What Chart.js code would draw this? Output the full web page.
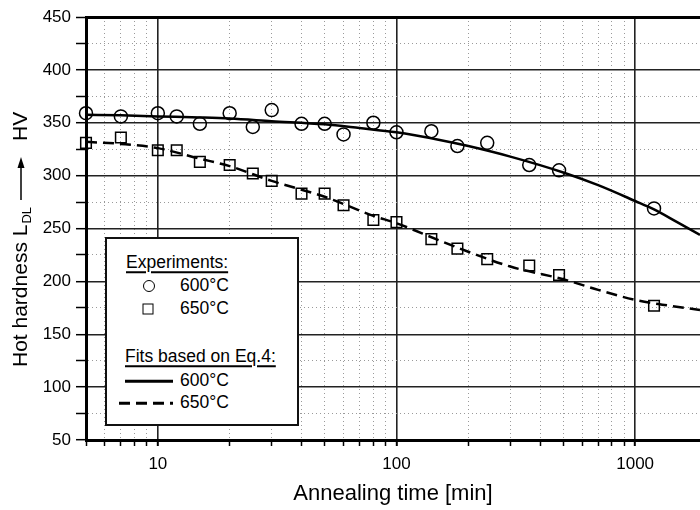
<!DOCTYPE html>
<html lang="en">
<head>
  <meta charset="UTF-8" />
  <title>Hot hardness vs annealing time</title>
  <script src="https://cdn.jsdelivr.net/npm/chart.js"></script>
  <style>
    html, body { margin:0; padding:0; background:#fff; }
    body { font-family: 'Liberation Sans', Arial, sans-serif; color:#000; }
    .wrap { position: relative; width:700px; height:510px; }
    #legendBox {
      position: absolute;
      left: 105px; top: 237px;
      width: 194px; height: 189px;
      box-sizing: border-box;
      border: 2px solid #111;
      background: #fff;
    }
    #legendBox .item {
      position: absolute;
      transform: translateY(-50%);
      font-size: 17.5px;
      line-height: 1;
      white-space: nowrap;
    }
    #legendBox .hdr { text-decoration: underline; text-decoration-thickness: 1.5px; text-underline-offset: 3px; }
    .mk-circle { position:absolute; width:10px; height:10px; border:1.5px solid #000; border-radius:50%; transform: translate(-50%,-50%); }
    .mk-square { position:absolute; width:9px; height:9px; border:1.5px solid #000; transform: translate(-50%,-50%); }
    .ln { position:absolute; height:2.5px; transform: translateY(-50%); }
    .ln.solid { background:#000; }
    .ln.dash { background: repeating-linear-gradient(to right, #000 0 11px, transparent 11px 17px); }
  </style>
</head>
<body>
  <div class="wrap">
    <canvas id="hardnessChart" width="700" height="510"></canvas>
    <div id="legendBox">
      <div class="item hdr" style="left:19px; top:24px;">Experiments:</div>
      <div class="mk-circle" style="left:42px; top:47px;"></div>
      <div class="item" style="left:73px; top:47px;">600°C</div>
      <div class="mk-square" style="left:41px; top:70px;"></div>
      <div class="item" style="left:73px; top:70px;">650°C</div>
      <div class="item hdr" style="left:18px; top:118px;">Fits based on Eq.4:</div>
      <div class="ln solid" style="left:18px; width:48px; top:142px;"></div>
      <div class="item" style="left:73px; top:142px;">600°C</div>
      <div class="ln dash" style="left:12px; width:54px; top:164px;"></div>
      <div class="item" style="left:73px; top:164px;">650°C</div>
    </div>
  </div>

  <script>
    // measured points (annealing time in min, hot hardness in HV)
    const expTimes = [5, 7, 10, 12, 15, 20, 25, 30, 40, 50, 60, 80, 100, 140, 180, 240, 360, 480, 1200];
    const exp600 = [359, 356, 359, 356, 349, 359, 346, 362, 349, 349, 339, 350, 341, 342, 328, 331, 310, 305, 269];
    const exp650 = [331, 336, 324, 324, 313, 310, 302, 295, 283, 283, 272, 258, 256, 240, 231, 221, 215, 206, 177];

    // fitted curves (Eq.4)
    const fitTimes600 = [5, 7, 10, 15, 20, 30, 50, 70, 100, 150, 200, 300, 500, 700, 1000, 1200, 1500, 1870];
    const fit600 = [357.5, 357, 356, 355, 354, 351.5, 348.5, 345, 341, 334, 328, 318, 303, 291, 276, 268, 256, 244];
    const fitTimes650 = [5, 7, 10, 15, 20, 30, 50, 80, 100, 150, 200, 300, 500, 700, 1000, 1300, 1870];
    const fit650 = [332, 330, 326, 316, 309, 295, 280, 262, 255, 239, 228, 214, 202, 192, 182.5, 178, 173];

    // axes
    const xMin = 5, xMax = 1870;
    const xTicks = [5, 6, 7, 8, 9, 10, 20, 30, 40, 50, 60, 70, 80, 90, 100,
                    200, 300, 400, 500, 600, 700, 800, 900, 1000];
    const xLabels = [10, 100, 1000];
    const yMin = 50, yMax = 450, yStep = 25, yLabelStep = 50;

    const xTitle = 'Annealing time [min]';
    const yTitle = 'Hot hardness L';
    const yTitleSub = 'DL';
    const yUnit = 'HV';

    const FONT = '"Liberation Sans", Arial, sans-serif';

    function pts(xs, ys) {
      return xs.map((x, i) => ({ x: x, y: ys[i] }));
    }

    const axisTitles = {
      id: 'axisTitles',
      afterDraw(chart) {
        const ctx = chart.ctx;
        const area = chart.chartArea;
        ctx.save();
        ctx.fillStyle = '#000';
        ctx.strokeStyle = '#000';
        ctx.font = '22px ' + FONT;
        ctx.textAlign = 'center';
        ctx.textBaseline = 'middle';
        ctx.fillText(xTitle, (area.left + area.right) / 2, area.bottom + 54);

        ctx.translate(21, 367);
        ctx.rotate(-Math.PI / 2);
        ctx.textAlign = 'left';
        ctx.font = '21px ' + FONT;
        ctx.fillText(yTitle, 0, 0);
        const w = ctx.measureText(yTitle).width;
        ctx.font = '13px ' + FONT;
        ctx.fillText(yTitleSub, w + 1, 6);
        // arrow
        ctx.lineWidth = 1.5;
        ctx.beginPath();
        ctx.moveTo(167, 0);
        ctx.lineTo(202, 0);
        ctx.stroke();
        ctx.beginPath();
        ctx.moveTo(210, 0);
        ctx.lineTo(199, -3.5);
        ctx.lineTo(199, 3.5);
        ctx.closePath();
        ctx.fill();
        ctx.font = '21px ' + FONT;
        ctx.fillText(yUnit, 226, 0);
        ctx.restore();
      }
    };

    const isMajorX = v => xLabels.includes(v);
    const isMajorY = v => v % yLabelStep === 0;

    new Chart(document.getElementById('hardnessChart'), {
      type: 'scatter',
      data: {
        datasets: [
          {
            label: '600°C',
            data: pts(expTimes, exp600),
            pointStyle: 'circle',
            pointRadius: 6.5,
            borderColor: '#000',
            borderWidth: 1.5,
            backgroundColor: 'rgba(0,0,0,0)',
            clip: false
          },
          {
            label: '650°C',
            data: pts(expTimes, exp650),
            pointStyle: 'rect',
            pointRadius: 7.5,
            borderColor: '#000',
            borderWidth: 1.5,
            backgroundColor: 'rgba(0,0,0,0)',
            clip: false
          },
          {
            label: 'Fit 600°C',
            data: pts(fitTimes600, fit600),
            showLine: true,
            pointRadius: 0,
            borderColor: '#000',
            borderWidth: 2.5,
            cubicInterpolationMode: 'monotone',
            clip: false
          },
          {
            label: 'Fit 650°C',
            data: pts(fitTimes650, fit650),
            showLine: true,
            pointRadius: 0,
            borderColor: '#000',
            borderWidth: 2.5,
            borderDash: [11, 6],
            cubicInterpolationMode: 'monotone',
            clip: false
          }
        ]
      },
      options: {
        responsive: false,
        animation: false,
        devicePixelRatio: 1,
        layout: { autoPadding: false, padding: { top: 17, right: 0, left: 0, bottom: 0 } },
        plugins: {
          legend: { display: false },
          tooltip: { enabled: false }
        },
        scales: {
          x: {
            type: 'logarithmic',
            min: xMin,
            max: xMax,
            afterBuildTicks: scale => {
              scale.ticks = xTicks.map(v => ({ value: v, major: isMajorX(v) }));
            },
            afterFit: scale => {
              scale.height = 70;
              scale.paddingLeft = 0;
              scale.paddingRight = 0;
            },
            ticks: {
              autoSkip: false,
              maxRotation: 0,
              padding: 8,
              color: '#000',
              font: { family: FONT, size: 17 },
              callback: v => (isMajorX(v) ? String(v) : '')
            },
            grid: {
              color: c => (c.tick && isMajorX(c.tick.value)) ? '#222' : (c.tick && c.tick.value === xMin ? 'rgba(0,0,0,0)' : '#9a9a9a'),
              lineWidth: c => (c.tick && isMajorX(c.tick.value)) ? 1.6 : 1,
              tickColor: '#000',
              tickWidth: c => (c.tick && isMajorX(c.tick.value)) ? 2 : 1.5,
              tickLength: 6
            },
            border: {
              display: true,
              color: '#000',
              width: 3,
              dash: c => (c.tick && !isMajorX(c.tick.value)) ? [1, 3] : []
            }
          },
          y: {
            type: 'linear',
            min: yMin,
            max: yMax,
            afterFit: scale => { scale.width = 86; },
            ticks: {
              stepSize: yStep,
              autoSkip: false,
              padding: 5,
              color: '#000',
              font: { family: FONT, size: 17 },
              callback: v => (isMajorY(v) ? String(v) : '')
            },
            grid: {
              color: c => {
                if (!c.tick) return '#222';
                if (c.tick.value === yMax) return '#000';
                if (c.tick.value === yMin) return 'rgba(0,0,0,0)';
                return isMajorY(c.tick.value) ? '#222' : '#9a9a9a';
              },
              lineWidth: c => {
                if (!c.tick) return 1;
                if (c.tick.value === yMax) return 3;
                return isMajorY(c.tick.value) ? 1.4 : 1;
              },
              tickColor: '#000',
              tickWidth: 1.5,
              tickLength: 10
            },
            border: {
              display: true,
              color: '#000',
              width: 3,
              dash: c => (c.tick && !isMajorY(c.tick.value)) ? [1, 3] : []
            }
          }
        }
      },
      plugins: [axisTitles]
    });
  </script>
</body>
</html>
